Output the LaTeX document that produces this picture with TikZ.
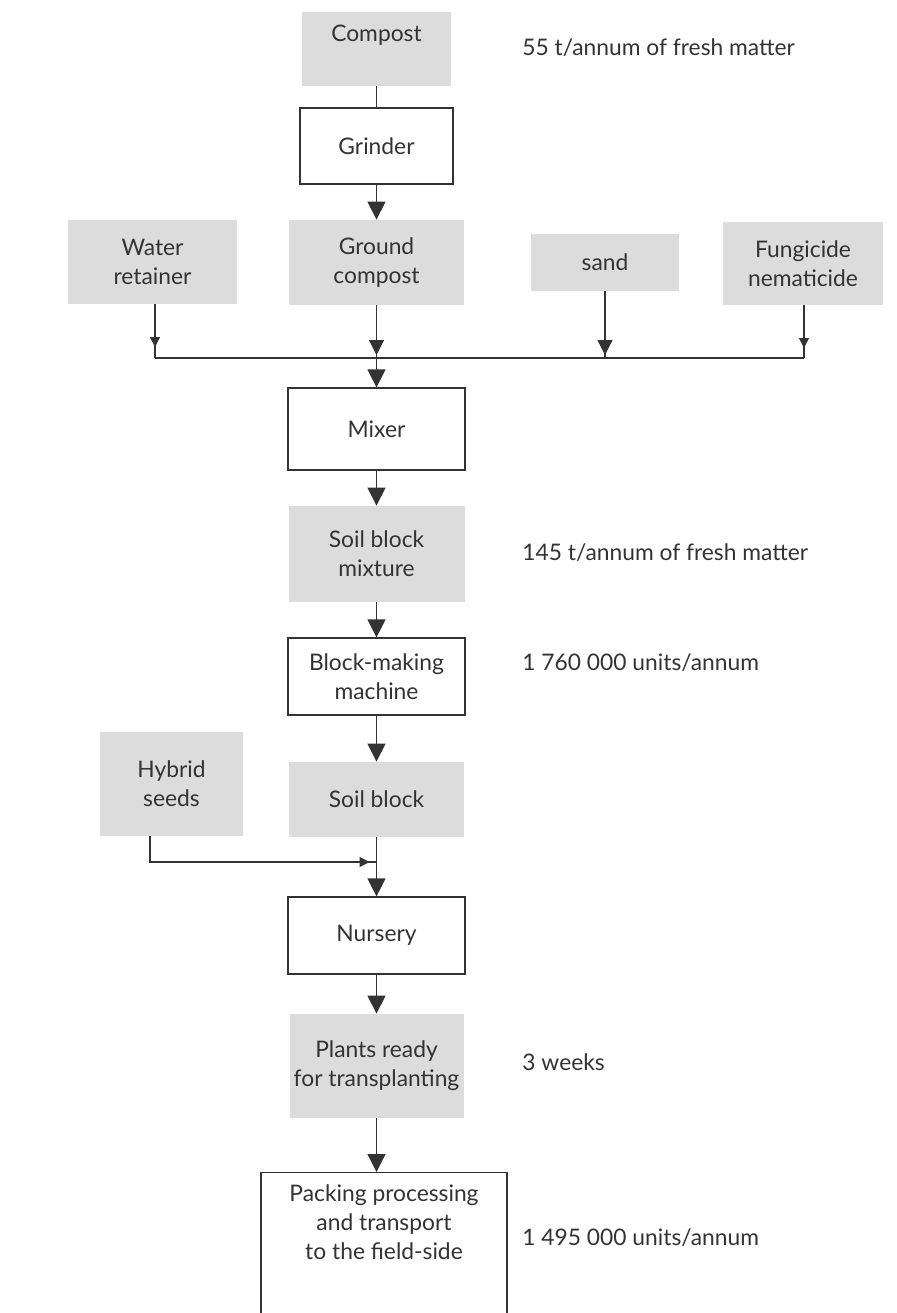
\documentclass[tikz,border=0pt]{standalone}
\usepackage{fontspec}
\setmainfont{Lato}
\usepackage{tikz}
\usetikzlibrary{arrows.meta, positioning, decorations.markings}
\definecolor{boxgrey}{HTML}{DCDCDC}
\definecolor{inkgrey}{HTML}{333333}

\begin{document}
\begin{tikzpicture}[x=0.5pt, y=-0.5pt,
    every node/.style={font=\fontsize{11.4}{14.5}\selectfont, text=inkgrey, align=center},
    grey/.style={fill=boxgrey, inner sep=2pt},
    plain/.style={draw=inkgrey, line width=0.6pt, fill=white, inner sep=2pt},
    link/.style={draw=inkgrey, color=inkgrey, line width=0.6pt},
    flow/.style={link, -{Triangle[length=9pt,width=9pt]}},
    inlet/.style 2 args={link, postaction={decorate},
      decoration={markings, mark=at position -#2 with {\arrow{Triangle[length=#1,width=#1]}}}},
    note/.style={anchor=west, align=left, inner xsep=0pt}
  ]
    \useasboundingbox (0,0) rectangle (896,1313);
    \clip (0,0) rectangle (896,1313);

    % main column
    \node[grey, minimum width=74.5pt, minimum height=37pt, text depth=16pt] (compost) at (376.5,49) {Compost};
    \node[plain, line width=1.2pt, minimum width=76.5pt, minimum height=38pt] (grinder) at (376.5,146) {Grinder};

    % inputs to the mixer
    \node[grey, minimum width=84.5pt, minimum height=42pt] (water) at (152.5,262) {Water\\retainer};
    \node[grey, minimum width=87.5pt, minimum height=42.5pt] (ground) at (376.5,262.5) {Ground\\compost};
    \node[grey, minimum width=74pt, minimum height=28.5pt] (sand) at (605,262.5) {sand};
    \node[grey, minimum width=80pt, minimum height=41.5pt] (fungi) at (803,263.5) {Fungicide\\nematicide};

    \node[plain, minimum width=88.5pt, minimum height=41pt] (mixer) at (376.5,429) {Mixer};
    \node[grey, minimum width=88pt, minimum height=48pt] (mixture) at (376.5,554) {Soil block\\mixture};
    \node[plain, minimum width=88.5pt, minimum height=38.5pt] (machine) at (376.5,676.5) {Block-making\\machine};
    \node[grey, minimum width=71.5pt, minimum height=52pt] (hybrid) at (171.5,784) {Hybrid\\seeds};
    \node[grey, minimum width=87.5pt, minimum height=37.5pt] (soilblock) at (376.5,799.5) {Soil block};
    \node[plain, minimum width=88.5pt, minimum height=38.5pt] (nursery) at (376.5,935.5) {Nursery};
    \node[grey, minimum width=87pt, minimum height=52pt] (plants) at (376.5,1066) {Plants ready\\for transplanting};
    \node[plain, anchor=north, minimum width=123pt, inner ysep=6pt, text depth=50pt] (packing) at (384,1172)
      {Packing processing\\and transport\\to the field-side};

    % side notes
    \node[note] (n55) at (522,48) {55 t/annum of fresh matter};
    \node[note] (n145) at (522,553) {145 t/annum of fresh matter};
    \node[note] (n1760) at (522,663) {1 760 000 units/annum};
    \node[note] (nweeks) at (522,1062) {3 weeks};
    \node[note] (n1495) at (522,1238) {1 495 000 units/annum};

    % collector and joins
    \coordinate (bw) at (155,358);
    \coordinate (bg) at (376.5,358);
    \coordinate (bs) at (605,358);
    \coordinate (bf) at (804,358);
    \coordinate (hc) at (150,862);
    \coordinate (hj) at (376.5,862);

    \draw[link] (compost) -- (grinder);
    \draw[flow] (grinder) -- (ground);
    \draw[inlet={5pt}{5.5pt}] (water.south -| bw) -- (bw);
    \draw[inlet={7.5pt}{1.5pt}] (ground) -- (bg);
    \draw[inlet={7.5pt}{1.5pt}] (sand) -- (bs);
    \draw[inlet={5pt}{5pt}] (fungi.south -| bf) -- (bf);
    \draw[link] (bw) -- (bf);
    \draw[flow] (bg) -- (mixer);
    \draw[flow] (mixer) -- (mixture);
    \draw[flow] (mixture) -- (machine);
    \draw[flow] (machine) -- (soilblock);
    \draw[inlet={5pt}{3.5pt}] (hybrid.south -| hc) -- (hc) -- (hj);
    \draw[flow] (soilblock) -- (nursery);
    \draw[flow] (nursery) -- (plants);
    \draw[flow] (plants) -- (packing.north -| plants);
\end{tikzpicture}
\end{document}
